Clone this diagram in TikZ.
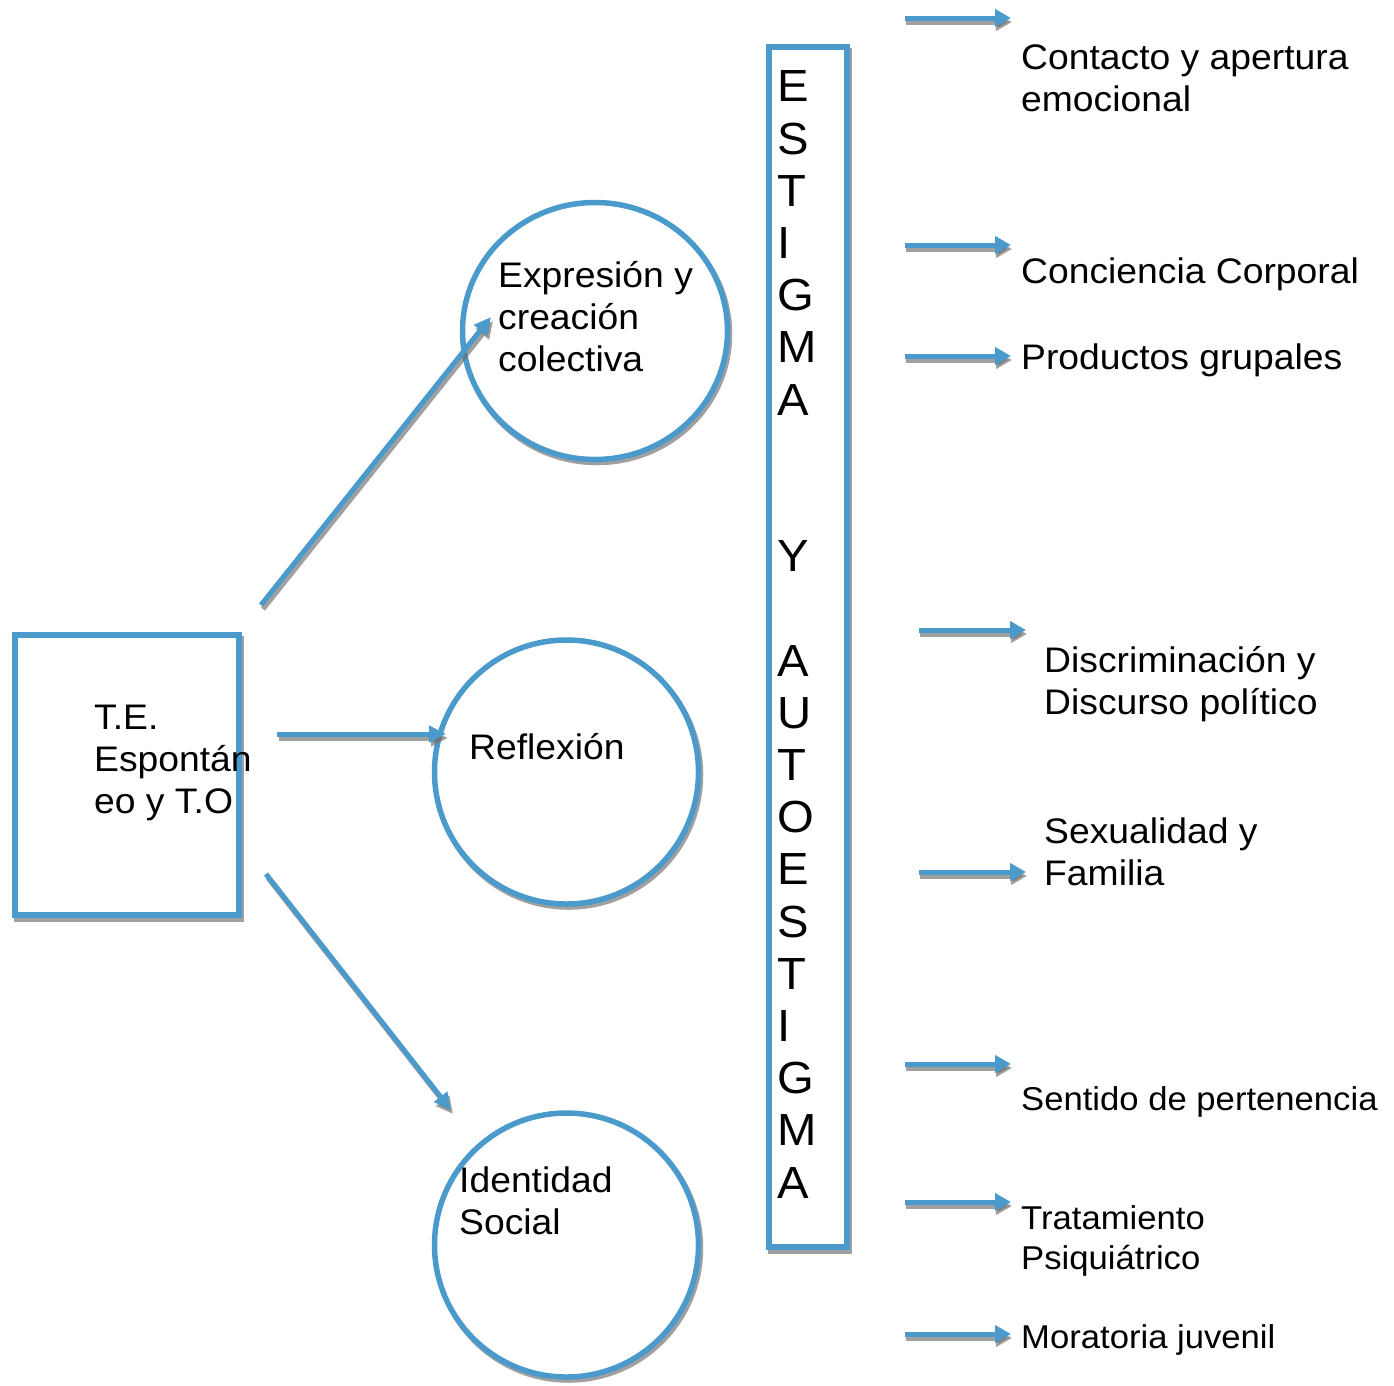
\documentclass[tikz,border=0pt]{standalone}
\usepackage{fontspec}
\setmainfont{Liberation Sans}[FakeStretch=1.05]
\usetikzlibrary{arrows.meta,shapes.geometric}
\definecolor{myblue}{RGB}{74,155,204}
\definecolor{shgray}{RGB}{110,110,110}
\begin{document}
\begin{tikzpicture}[x=1pt,y=-1pt,
  txt/.style={anchor=base west, inner sep=0pt, align=left, font=\fontsize{35.5}{42}\selectfont},
  txts/.style={anchor=base west, inner sep=0pt, align=left, font=\fontsize{33}{39.5}\selectfont},
  shapebox/.style={draw=myblue, line width=5.5pt, fill=white, inner sep=0pt},
  shadowline/.style={draw=shgray, line width=5.5pt, opacity=0.65},
  bluearrow/.style={draw=myblue, line width=5pt, -{Triangle[length=16pt,width=17pt]}},
  shadowarrow/.style={draw=shgray, line width=5pt, opacity=0.65, -{Triangle[length=16pt,width=17pt]}},
  bigtip/.style={-{Triangle[length=17pt,width=16pt]}},
]
\useasboundingbox (0,0) rectangle (1394,1385);
\fill[white] (0,0) rectangle (1394,1385);

% shadows of shapes
\draw[shadowline] (17,639) rectangle (241,919);
\draw[shadowline] (597,334) ellipse [x radius=132.5, y radius=128.5];
\draw[shadowline] (568.5,775) circle [radius=132];
\draw[shadowline] (568.5,1248) circle [radius=132];
\draw[shadowline] (771,51) rectangle (849,1251);

% shapes
\node[shapebox, minimum width=224pt, minimum height=280pt] (te) at (127,775) {};
\node[shapebox, ellipse, minimum width=265pt, minimum height=257pt] (c1) at (595,331) {};
\node[shapebox, circle, minimum size=264pt] (c2) at (566.5,772) {};
\node[shapebox, circle, minimum size=264pt] (c3) at (566.5,1245) {};
\node[shapebox, minimum width=78pt, minimum height=1200pt] (bar) at (808,647) {};

% big arrows
\coordinate (a1s) at (261,605); \coordinate (a1e) at (491,317);
\coordinate (a2s) at (277,734); \coordinate (a2e) at (446,734);
\coordinate (a3s) at (266,874); \coordinate (a3e) at (451,1110);
\foreach \s/\e in {a1s/a1e,a2s/a2e,a3s/a3e}{
  \draw[shadowarrow,bigtip] ([shift={(2,4)}]\s) -- ([shift={(2,4)}]\e);
  \draw[bluearrow,bigtip] (\s) -- (\e);
}

% small arrows
\foreach \n/\xa/\xb/\y in {r1/905/1011/18, r2/905/1011/245, r3/905/1011/356, r4/919/1026/630, r5/919/1026/872, r6/905/1011/1064, r7/905/1011/1202, r8/905/1011/1334}{
  \coordinate (\n s) at (\xa,\y); \coordinate (\n e) at (\xb,\y);
  \draw[shadowarrow] ([shift={(1,4)}]\n s) -- ([shift={(1,4)}]\n e);
  \draw[bluearrow] (\n s) -- (\n e);
}

% texts (anchored at the baseline of the last line)
\node[txt] (tte) at (94,813) {T.E.\\Espontán\\eo y T.O};
\node[txt] (tc1) at (498,371) {Expresión y\\creación\\colectiva};
\node[txt] (tc2) at (469,759) {Reflexión};
\node[txt] (tc3) at (459,1234) {Identidad\\Social};
\node[anchor=base west, inner sep=0pt, align=left, font=\fontsize{45}{52.2}\selectfont] (tbar) at (777,1198)
  {E\\S\\T\\I\\G\\M\\A\\\mbox{}\\\mbox{}\\Y\\\mbox{}\\A\\U\\T\\O\\E\\S\\T\\I\\G\\M\\A};

\node[txt] (l1) at (1021,111) {Contacto y apertura\\emocional};
\node[txt] (l2) at (1021,283) {Conciencia Corporal};
\node[txt] (l3) at (1021,369) {Productos grupales};
\node[txt] (l4) at (1044,714) {Discriminación y\\Discurso político};
\node[txt] (l5) at (1044,885) {Sexualidad y\\Familia};
\node[txts] (l6) at (1021,1110) {Sentido de pertenencia};
\node[txts] (l7) at (1021,1269) {Tratamiento\\Psiquiátrico};
\node[txts] (l8) at (1021,1348) {Moratoria juvenil};
\end{tikzpicture}
\end{document}
